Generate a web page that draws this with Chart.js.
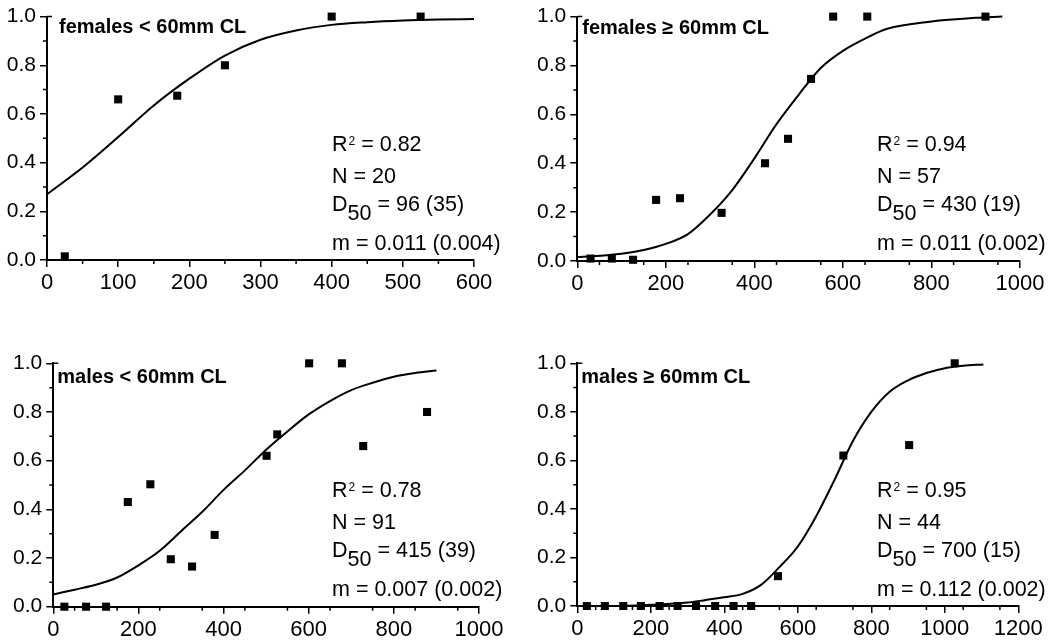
<!DOCTYPE html>
<html>
<head>
<meta charset="utf-8">
<script src="https://cdn.jsdelivr.net/npm/chart.js@4.4.1/dist/chart.umd.min.js"></script>
<style>
  html, body { margin: 0; padding: 0; background: #fff; }
  #wrap { position: relative; width: 1056px; height: 644px; overflow: hidden; }
  .panel { position: absolute; width: 528px; height: 322px; }
</style>
</head>
<body>
<div id="wrap">
  <div class="panel" style="left:0;top:0"><canvas id="c1"></canvas></div>
  <div class="panel" style="left:528px;top:0"><canvas id="c2"></canvas></div>
  <div class="panel" style="left:0;top:322px"><canvas id="c3"></canvas></div>
  <div class="panel" style="left:528px;top:322px"><canvas id="c4"></canvas></div>
</div>
<script>
// females < 60mm CL
var fSmallX = [25, 100, 183, 250, 400, 525];
var fSmallY = [0.015, 0.66, 0.675, 0.80, 1.0, 1.0];
var fSmallFitX = [0, 50, 100, 150, 200, 250, 300, 350, 400, 450, 500, 550, 600];
var fSmallFitY = [0.27, 0.38, 0.505, 0.635, 0.745, 0.84, 0.905, 0.943, 0.966, 0.977, 0.984, 0.988, 0.99];

// females >= 60mm CL
var fLargeX = [30, 78, 126, 178, 232, 326, 424, 476, 528, 578, 655, 922];
var fLargeY = [0.01, 0.01, 0.005, 0.25, 0.257, 0.197, 0.40, 0.50, 0.745, 1.0, 1.0, 1.0];
var fLargeFitX = [0, 100, 150, 200, 250, 300, 350, 400, 450, 500, 550, 600, 650, 700, 800, 900, 960];
var fLargeFitY = [0.015, 0.03, 0.045, 0.07, 0.11, 0.19, 0.29, 0.42, 0.56, 0.68, 0.79, 0.86, 0.91, 0.95, 0.98, 0.995, 1.0];

// males < 60mm CL
var mSmallX = [26, 77, 124, 175, 228, 276, 326, 379, 501, 526, 601, 678, 728, 878];
var mSmallY = [0, 0, 0, 0.43, 0.503, 0.195, 0.165, 0.295, 0.62, 0.708, 1.0, 1.0, 0.66, 0.80];
var mSmallFitX = [0, 50, 100, 150, 200, 250, 300, 350, 400, 450, 500, 550, 600, 650, 700, 750, 800, 850, 900];
var mSmallFitY = [0.05, 0.07, 0.09, 0.12, 0.17, 0.23, 0.31, 0.39, 0.48, 0.56, 0.645, 0.72, 0.79, 0.845, 0.89, 0.92, 0.945, 0.96, 0.97];

// males >= 60mm CL
var mLargeX = [26, 75, 125, 173, 224, 273, 323, 375, 425, 473, 546, 724, 903, 1027];
var mLargeY = [0, 0, 0, 0, 0, 0, 0, 0, 0, 0, 0.123, 0.62, 0.663, 1.0];
var mLargeFitX = [25, 100, 200, 300, 350, 400, 450, 500, 550, 600, 650, 700, 750, 800, 850, 900, 950, 1000, 1050, 1105];
var mLargeFitY = [0, 0, 0.005, 0.014, 0.025, 0.036, 0.05, 0.087, 0.16, 0.245, 0.37, 0.52, 0.68, 0.80, 0.883, 0.93, 0.96, 0.98, 0.99, 0.995];

var panelTitles = ['females < 60mm CL', 'females \u2265 60mm CL', 'males < 60mm CL', 'males \u2265 60mm CL'];
var statR2 = ['0.82', '0.94', '0.78', '0.95'];
var statN = ['20', '57', '91', '44'];
var statD50 = ['96 (35)', '430 (19)', '415 (39)', '700 (15)'];
var statM = ['0.011 (0.004)', '0.011 (0.002)', '0.007 (0.002)', '0.112 (0.002)'];
var xMaxes = [600, 1000, 1000, 1200];
var xSteps = [100, 200, 200, 200];

var FONT = '"Liberation Sans", Arial, sans-serif';

function toPoints(xs, ys) {
  return xs.map(function (x, i) { return { x: x, y: ys[i] }; });
}

function drawRich(ctx, parts, x, y) {
  parts.forEach(function (p) {
    ctx.font = (p.bold ? 'bold ' : '') + (p.size || 21.5) + 'px ' + FONT;
    ctx.fillText(p.t, x, y + (p.dy || 0));
    x += ctx.measureText(p.t).width + (p.gap || 0);
  });
}

var panelDecor = {
  id: 'panelDecor',
  afterDatasetsDraw: function (chart, args, opts) {
    var ctx = chart.ctx, xs = chart.scales.x, ys = chart.scales.y, a = chart.chartArea;
    var i = opts.index;
    ctx.save();
    ctx.strokeStyle = '#000';
    ctx.lineWidth = 1.5;
    ctx.beginPath();
    for (var v = 50; v < xs.max; v += 100) {
      var px = xs.getPixelForValue(v);
      ctx.moveTo(px, a.bottom);
      ctx.lineTo(px, a.bottom + 4);
    }
    for (var w = 0.1; w < 1; w += 0.2) {
      var py = ys.getPixelForValue(w);
      ctx.moveTo(a.left, py);
      ctx.lineTo(a.left - 4, py);
    }
    var top = ys.getPixelForValue(1);
    ctx.moveTo(a.left, top);
    ctx.lineTo(a.left + 5, top);
    ctx.stroke();

    ctx.fillStyle = '#000';
    ctx.textBaseline = 'alphabetic';
    ctx.textAlign = 'left';
    drawRich(ctx, [{ t: panelTitles[i], bold: true, size: 20 }], a.left + opts.titleDx, a.top + opts.titleDy);

    var sx = opts.statX;
    drawRich(ctx, [{ t: 'R', gap: 1 }, { t: '2', size: 12, dy: -6 }, { t: ' = ' + statR2[i] }], sx, a.top + 134);
    drawRich(ctx, [{ t: 'N = ' + statN[i] }], sx, a.top + 166);
    drawRich(ctx, [{ t: 'D' }, { t: '50', size: 21.5, dy: 9 }, { t: ' = ' + statD50[i] }], sx, a.top + 194);
    drawRich(ctx, [{ t: 'm = ' + statM[i] }], sx, a.top + 233);
    ctx.restore();
  }
};

function makePanel(id, i, pts, fit, pad, deco) {
  new Chart(document.getElementById(id), {
    type: 'scatter',
    data: {
      datasets: [
        { data: fit, showLine: true, borderColor: '#000', borderWidth: 2, pointRadius: 0,
          tension: 0.4, cubicInterpolationMode: 'monotone', clip: false, order: 2 },
        { data: pts, pointStyle: 'rect', pointRadius: 5.7, backgroundColor: '#000',
          borderColor: '#000', borderWidth: 0, clip: false, order: 1 }
      ]
    },
    options: {
      responsive: true, maintainAspectRatio: false, animation: false, events: [],
      layout: { padding: pad },
      plugins: { legend: { display: false }, tooltip: { enabled: false }, panelDecor: deco },
      scales: {
        x: {
          type: 'linear', min: 0, max: xMaxes[i],
          afterFit: function (s) { s.height = 34; },
          ticks: { stepSize: xSteps[i], color: '#000', font: { family: FONT, size: 22 }, padding: 3, maxRotation: 0, autoSkip: false,
            callback: function (v) { return String(v); } },
          grid: { display: true, drawOnChartArea: false, color: '#000', lineWidth: 1.5, tickLength: 7 },
          border: { display: true, color: '#000', width: 2 }
        },
        y: {
          min: 0, max: 1,
          afterFit: function (s) { s.width = 45; },
          ticks: { stepSize: 0.2, color: '#000', font: { family: FONT, size: 21 }, padding: 4,
            callback: function (v) { return v.toFixed(1); } },
          grid: { display: true, drawOnChartArea: false, color: '#000', lineWidth: 1.5, tickLength: 7 },
          border: { display: true, color: '#000', width: 2 }
        }
      }
    },
    plugins: [panelDecor]
  });
}

makePanel('c1', 0, toPoints(fSmallX, fSmallY), toPoints(fSmallFitX, fSmallFitY),
  { left: 2, top: 16, right: 54, bottom: 28 }, { index: 0, titleDx: 12, titleDy: 16, statX: 332 });
makePanel('c2', 1, toPoints(fLargeX, fLargeY), toPoints(fLargeFitX, fLargeFitY),
  { left: 4.3, top: 16, right: 36, bottom: 27 }, { index: 1, titleDx: 5, titleDy: 17, statX: 349 });
makePanel('c3', 2, toPoints(mSmallX, mSmallY), toPoints(mSmallFitX, mSmallFitY),
  { left: 8.3, top: 41.3, right: 49, bottom: 3.3 }, { index: 2, titleDx: 4, titleDy: 20, statX: 332 });
makePanel('c4', 3, toPoints(mLargeX, mLargeY), toPoints(mLargeFitX, mLargeFitY),
  { left: 4.3, top: 41.3, right: 37.7, bottom: 4 }, { index: 3, titleDx: 4, titleDy: 20, statX: 349 });
</script>
</body>
</html>
